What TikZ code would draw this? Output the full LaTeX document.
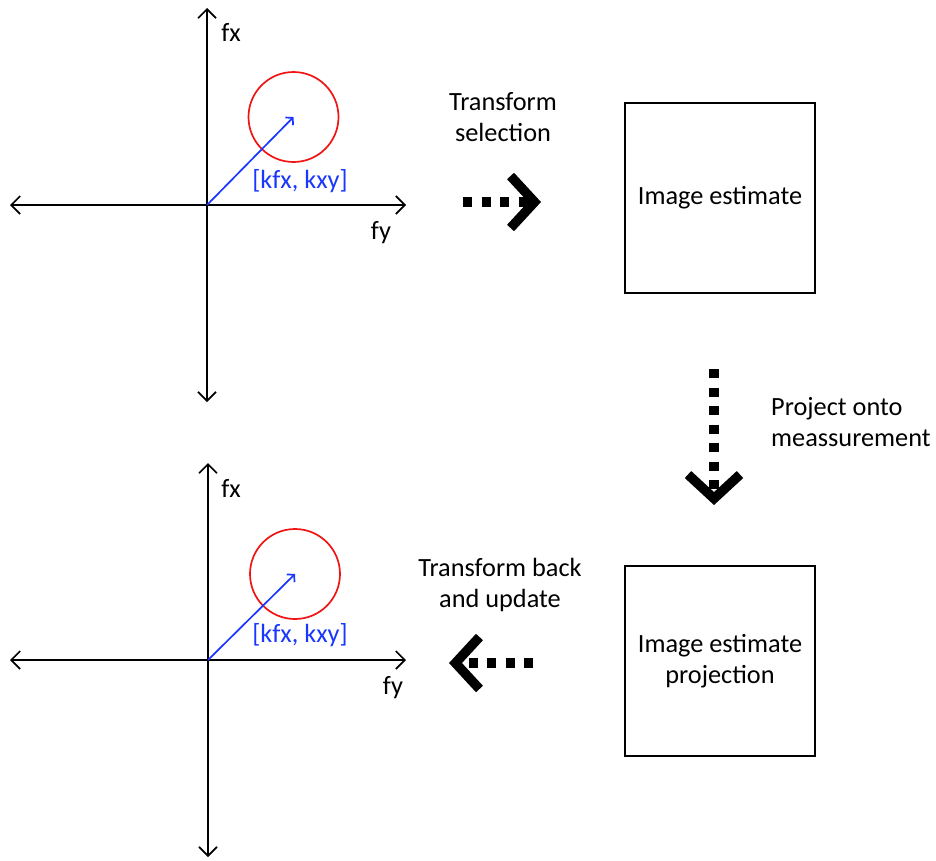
\documentclass[tikz,border=0pt]{standalone}
\usepackage{fontspec}
\setmainfont{Carlito}
\usetikzlibrary{arrows.meta}
\definecolor{vecblue}{RGB}{25,55,255}
\definecolor{ringred}{RGB}{240,20,20}
\begin{document}
\begin{tikzpicture}[x=1pt,y=-1pt,
  txt/.style={font=\fontsize{26.3}{30.5}\selectfont, inner sep=0pt, align=center},
  axis/.style={line width=1.7pt,
    {Straight Barb[length=9pt,width=18pt]}-{Straight Barb[length=9pt,width=18pt]}},
  vec/.style={vecblue, line width=1.7pt, -{Straight Barb[length=5pt,width=11pt]}},
  ring/.style={circle, draw=ringred, line width=1.7pt, minimum size=90pt, inner sep=0pt},
  box/.style={draw, line width=1.7pt, minimum width=190pt, minimum height=190pt,
    font=\fontsize{26.3}{30.5}\selectfont, align=center},
  big/.style={line width=9.5pt, dash pattern=on 9pt off 9.5pt,
    -{Straight Barb[length=24pt,width=52pt]}}]
\useasboundingbox (0,0) rectangle (936,860);

% upper frequency plane
\coordinate (o1) at (207,205);
\coordinate (t1) at (207,8);
\coordinate (b1) at (207,402);
\coordinate (l1) at (10,205);
\coordinate (r1) at (406,205);
\draw[axis] (l1) -- (r1);
\draw[axis] (t1) -- (b1);
\node[txt] (fx1) at (231,32) {fx};
\node[txt] (fy1) at (381,233) {fy};
\node[ring] (c1) at (293.5,117) {};
\draw[vec] (o1) -- (c1.center);
\node[txt, text=vecblue] (k1) at (300,181) {[kfx, kxy]};

% lower frequency plane
\coordinate (o2) at (208,660);
\coordinate (t2) at (208,463);
\coordinate (b2) at (208,857);
\coordinate (l2) at (10,660);
\coordinate (r2) at (406,660);
\draw[axis] (l2) -- (r2);
\draw[axis] (t2) -- (b2);
\node[txt] (fx2) at (231,488) {fx};
\node[txt] (fy2) at (393,688) {fy};
\node[ring] (c2) at (295,574) {};
\draw[vec] (o2) -- (c2.center);
\node[txt, text=vecblue] (k2) at (300,635) {[kfx, kxy]};

% image boxes
\node[box] (est) at (720,198) {Image estimate};
\node[box] (proj) at (720,661) {Image estimate\\projection};

% process arrows
\coordinate (a1s) at (463,202);
\coordinate (a1e) at (541,202);
\draw[big] (a1s) -- (a1e);
\node[txt] (lab1) at (503,117) {Transform\\selection};

\coordinate (a2s) at (714,369);
\coordinate (a2e) at (714,505);
\draw[big] (a2s) -- (a2e);
\node[txt, anchor=west, align=left] (lab2) at (771,422) {Project onto\\meassurement};

\coordinate (a3s) at (533,663);
\coordinate (a3e) at (449,663);
\draw[big] (a3s) -- (a3e);
\node[txt] (lab3) at (500,585) {Transform back\\and update};
\end{tikzpicture}
\end{document}
